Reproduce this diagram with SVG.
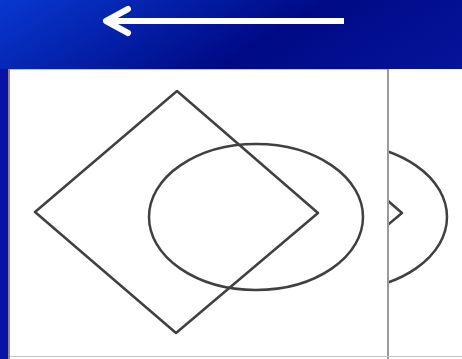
<svg xmlns="http://www.w3.org/2000/svg" width="462" height="359" viewBox="0 0 462 359">
  <defs>
    <linearGradient id="bg" gradientUnits="userSpaceOnUse" x1="0" y1="0" x2="208" y2="341">
      <stop offset="0" stop-color="#0838d0"/>
      <stop offset="0.43" stop-color="#000a85"/>
      <stop offset="1" stop-color="#0a1cae"/>
    </linearGradient>
    <clipPath id="clipA"><rect x="10" y="70" width="378" height="286"/></clipPath>
    <clipPath id="clipB"><rect x="389" y="70" width="73" height="286"/></clipPath>
    <g id="drawing">
      <polygon points="177,91 35,212 176,333 318,213" />
      <ellipse cx="256" cy="217" rx="107" ry="73" />
    </g>
  </defs>
  <style>
    .sketch { fill: none; stroke: #404040; stroke-width: 2.5; stroke-linejoin: round; }
    .arrow { fill: none; stroke: #ffffff; stroke-width: 6; stroke-linecap: round; stroke-linejoin: round; }
  </style>
  <rect x="0" y="0" width="462" height="359" fill="url(#bg)"/>
  <rect x="0" y="69" width="8" height="290" fill="#0812a6"/>
  <g id="arrow">
    <line class="arrow" x1="108" y1="21" x2="344" y2="21" style="stroke-linecap:butt"/>
    <polyline class="arrow" points="128,9 106,21 128,33"/>
  </g>
  <g id="panel1">
    <rect x="8" y="69" width="381" height="290" fill="#ffffff"/>
    <rect x="8" y="69" width="2" height="290" fill="#8a8a8a"/>
    <rect x="10" y="69" width="378" height="1" fill="#c8c8c8"/>
    <g clip-path="url(#clipA)" class="sketch"><use href="#drawing"/></g>
  </g>
  <g id="panel2">
    <rect x="389" y="69" width="73" height="290" fill="#ffffff"/>
    <g clip-path="url(#clipB)" class="sketch"><use href="#drawing" transform="translate(84,0)"/></g>
  </g>
  <rect x="387" y="69" width="2" height="290" fill="#9a9a9a"/>
  <rect x="10" y="356" width="452" height="1" fill="#c4c4c4"/>
</svg>
